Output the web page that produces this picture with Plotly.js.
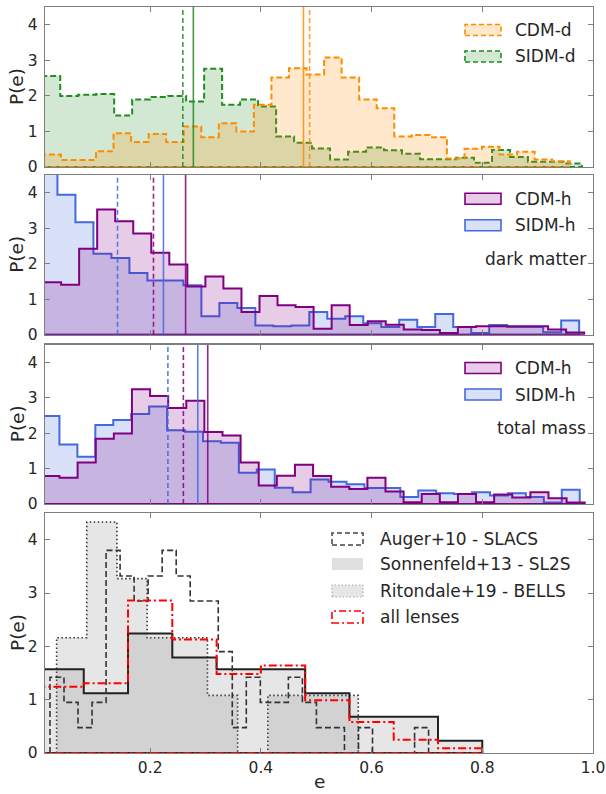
<!DOCTYPE html>
<html>
<head>
<meta charset="utf-8">
<script src="https://cdn.plot.ly/plotly-3.0.1.min.js"></script>
<style>
  html, body { margin: 0; padding: 0; background: #fff; }
  #chart { width: 606px; height: 794px; }
</style>
</head>
<body>
<div id="chart"></div>
<script>
// ---- Ellipticity distributions P(e): bin range [lo, hi] + bin heights ----

// Panel 1: disc shapes
const cdmDBins = [0.007, 0.958];
const cdmD = [0.35, 0.20, 0.20, 0.44, 0.95, 0.70, 0.93, 0.70, 1.14, 0.84,
              1.23, 1.00, 1.75, 2.52, 2.78, 2.60, 3.08, 2.52, 1.90, 1.65,
              0.86, 0.90, 0.84, 0.24, 0.51, 0.57, 0.35, 0.43, 0.21, 0.16];
const sidmDBins = [0.005, 0.980];
const sidmD = [2.56, 2.00, 2.03, 2.05, 1.45, 1.90, 1.97, 2.00, 1.84, 2.76,
               1.75, 1.90, 1.70, 0.86, 0.68, 0.52, 0.21, 0.43, 0.55, 0.47,
               0.37, 0.22, 0.22, 0.26, 0.12, 0.48, 0.28, 0.15, 0.15, 0.10];
const cdmDMarks = [0.477, 0.488];   // [solid, dashed]
const sidmDMarks = [0.278, 0.259];

// Panel 2: halo shapes, dark matter
const cdmHdmBins = [0.0065, 0.984];
const cdmHdm = [1.48, 1.41, 2.42, 3.53, 3.20, 2.85, 2.31, 1.98, 1.36, 1.64,
                1.30, 0.64, 1.09, 0.83, 0.78, 0.17, 0.83, 0.27, 0.38, 0.28,
                0.15, 0.13, 0.05, 0.22, 0.24, 0.24, 0.24, 0.24, 0.15, 0.06];
const sidmHdmBins = [0.0, 0.975];
const sidmHdm = [5.30, 3.94, 3.17, 2.28, 2.16, 1.74, 1.53, 1.53, 1.39, 0.52,
                 0.89, 0.75, 0.26, 0.24, 0.26, 0.64, 0.45, 0.52, 0.32, 0.22,
                 0.42, 0.22, 0.58, 0.22, 0.05, 0.27, 0.22, 0.22, 0.07, 0.40];
const cdmHdmMarks = [0.264, 0.206];
const sidmHdmMarks = [0.224, 0.141];

// Panel 3: halo shapes, total mass
const cdmHtotBins = [0.0035, 0.985];
const cdmHtot = [0.79, 0.74, 1.17, 1.84, 1.99, 3.24, 3.05, 2.71, 2.91, 2.03,
                 1.93, 1.17, 0.52, 0.80, 1.11, 0.79, 0.49, 0.42, 0.74, 0.35,
                 0.05, 0.28, 0.05, 0.28, 0.05, 0.27, 0.18, 0.33, 0.16, 0.04];
const sidmHtotBins = [0.0037, 0.976];
const sidmHtot = [2.48, 1.68, 1.33, 2.23, 2.37, 2.54, 2.75, 2.08, 2.04, 1.77,
                  1.73, 0.88, 0.97, 0.46, 0.33, 0.69, 0.63, 0.56, 0.45, 0.45,
                  0.20, 0.38, 0.30, 0.28, 0.33, 0.24, 0.30, 0.20, 0.04, 0.40];
const cdmHtotMarks = [0.304, 0.260];
const sidmHtotMarks = [0.286, 0.232];

// Panel 4: observed lens samples
const augerBins = [0.019, 0.703];
const auger = [1.42, 0.95, 0.475, 0.95, 3.80, 3.32, 2.85, 3.32, 3.80, 3.32,
               2.85, 2.85, 1.90, 0.475, 1.42, 0.95, 0.95, 1.42, 0.95, 0.475,
               0.475, 0, 0.475, 0, 0, 0, 0.475];
const sonnBins = [0.0, 0.8];
const sonn = [1.57, 1.12, 2.24, 1.79, 1.57, 1.57, 1.12, 0.68, 0.68, 0.23];
const ritBins = [0.031, 0.576];
const rit = [2.16, 4.33, 3.27, 2.16, 2.16, 1.08, 0, 1.08, 1.08, 1.08];
const allBins = [0.0, 0.8];
const allLenses = [1.24, 1.31, 2.86, 2.13, 1.48, 1.64, 0.99, 0.58, 0.25, 0.09];

// Axis ticks
const xTicks = [0.2, 0.4, 0.6, 0.8, 1.0];
const xTickText = ['0.2', '0.4', '0.6', '0.8', '1.0'];
const yTicks = [0, 1, 2, 3, 4];

// ---- styling ----
const FONT = 'DejaVu Sans, Verdana, sans-serif';
const TXT = '#262626';
const FRAME = '#7f7f7f';
const ORANGE = '#ff8c00', GREEN = '#228b22', PURPLE = '#800080', BLUE = '#4169e1';
const YMAX = 4.5;
const LEG_SIZE = 17;

function rgba(hex, a) {
  const n = parseInt(hex.slice(1), 16);
  return `rgba(${(n >> 16) & 255},${(n >> 8) & 255},${n & 255},${a})`;
}

// closed step outline of a histogram (bins equally spaced over range)
function stepTrace(range, h, ax, line, fillcolor) {
  const n = h.length, w = (range[1] - range[0]) / n;
  const x = [range[0]], y = [0];
  for (let i = 0; i < n; i++) { x.push(range[0] + i * w); y.push(h[i]); }
  x.push(range[1]); y.push(0);
  x.push(range[0]); y.push(0);
  return {
    type: 'scatter', mode: 'lines', x, y,
    xaxis: 'x' + ax, yaxis: 'y' + ax,
    line: Object.assign({ shape: 'hv' }, line),
    fill: fillcolor ? 'toself' : 'none', fillcolor: fillcolor || undefined,
    hoverinfo: 'skip', showlegend: false
  };
}

function vTrace(v, ax, color, dash) {
  return {
    type: 'scatter', mode: 'lines', x: [v, v], y: [0, YMAX],
    xaxis: 'x' + ax, yaxis: 'y' + ax,
    line: { color, width: 1.6, dash: dash ? '5px,3px' : 'solid' },
    opacity: 0.85, hoverinfo: 'skip', showlegend: false
  };
}

const DASH = '6px,3px';
const traces = [
  // panel 1
  stepTrace(sidmDBins, sidmD, '', { color: GREEN, width: 2, dash: DASH }, rgba(GREEN, 0.2)),
  stepTrace(cdmDBins, cdmD, '', { color: ORANGE, width: 2, dash: DASH }, rgba(ORANGE, 0.2)),
  vTrace(cdmDMarks[0], '', ORANGE, false), vTrace(cdmDMarks[1], '', ORANGE, true),
  vTrace(sidmDMarks[0], '', GREEN, false), vTrace(sidmDMarks[1], '', GREEN, true),
  // panel 2
  stepTrace(sidmHdmBins, sidmHdm, '2', { color: BLUE, width: 2 }, rgba(BLUE, 0.2)),
  stepTrace(cdmHdmBins, cdmHdm, '2', { color: PURPLE, width: 2 }, rgba(PURPLE, 0.2)),
  vTrace(cdmHdmMarks[0], '2', PURPLE, false), vTrace(cdmHdmMarks[1], '2', PURPLE, true),
  vTrace(sidmHdmMarks[0], '2', BLUE, false), vTrace(sidmHdmMarks[1], '2', BLUE, true),
  // panel 3
  stepTrace(sidmHtotBins, sidmHtot, '3', { color: BLUE, width: 2 }, rgba(BLUE, 0.2)),
  stepTrace(cdmHtotBins, cdmHtot, '3', { color: PURPLE, width: 2 }, rgba(PURPLE, 0.2)),
  vTrace(cdmHtotMarks[0], '3', PURPLE, false), vTrace(cdmHtotMarks[1], '3', PURPLE, true),
  vTrace(sidmHtotMarks[0], '3', BLUE, false), vTrace(sidmHtotMarks[1], '3', BLUE, true),
  // panel 4
  stepTrace(ritBins, rit, '4', { color: '#333333', width: 1.6, dash: '1.5px,2.5px' }, 'rgba(128,128,128,0.2)'),
  stepTrace(sonnBins, sonn, '4', { color: '#222222', width: 2 }, 'rgba(128,128,128,0.2)'),
  stepTrace(augerBins, auger, '4', { color: '#333333', width: 1.6, dash: DASH }, null),
  stepTrace(allBins, allLenses, '4', { color: '#ff0000', width: 2, dash: '8px,3px,2px,3px' }, null)
];

// ---- layout ----
const W = 606, H = 794;
const M = { l: 45, r: 13, t: 7, b: 41 };
const PW = W - M.l - M.r, PH = H - M.t - M.b;
const px = v => (v - M.l) / PW;          // pixel -> paper x
const py = v => (H - M.b - v) / PH;      // pixel -> paper y

function xAxis(anchor, labels) {
  return {
    anchor, range: [0.01, 1.0], tickvals: xTicks, ticktext: xTickText,
    showticklabels: labels, ticks: 'inside', ticklen: 5, tickwidth: 1, tickcolor: FRAME,
    showline: true, linecolor: FRAME, linewidth: 1.2, mirror: 'ticks',
    showgrid: false, zeroline: false, fixedrange: true,
    tickfont: { family: FONT, size: 15.5, color: TXT }
  };
}
function yAxis(anchor, top, bottom) {
  return {
    anchor, domain: [py(bottom), py(top)], range: [0, YMAX], tickvals: yTicks,
    ticks: 'inside', ticklen: 5, tickwidth: 1, tickcolor: FRAME,
    showline: true, linecolor: FRAME, linewidth: 1.2, mirror: 'ticks',
    showgrid: false, zeroline: false, fixedrange: true, ticklabelstandoff: 3,
    tickfont: { family: FONT, size: 15.5, color: TXT }
  };
}

const panels = [[7, 167], [175, 334.7], [344.5, 504], [513, 753]];

// legend swatches and labels
const shapes = [], annotations = [];
function legendItem(x0, x1, yc, h, line, fill, label, tx) {
  shapes.push({
    type: 'rect', xref: 'paper', yref: 'paper',
    x0: px(x0), x1: px(x1), y0: py(yc + h / 2), y1: py(yc - h / 2),
    line: line, fillcolor: fill || 'rgba(0,0,0,0)'
  });
  annotations.push({
    xref: 'paper', yref: 'paper', x: px(tx), y: py(yc), xanchor: 'left', yanchor: 'middle',
    text: label, showarrow: false, font: { family: FONT, size: LEG_SIZE, color: TXT }
  });
}
legendItem(465, 501, 30, 11, { color: ORANGE, width: 1.6, dash: '5px,3px' }, rgba(ORANGE, 0.2), 'CDM-d', 513);
legendItem(465, 501, 56.5, 11, { color: GREEN, width: 1.6, dash: '5px,3px' }, rgba(GREEN, 0.2), 'SIDM-d', 513);
legendItem(465, 501, 198.7, 11, { color: PURPLE, width: 1.6 }, rgba(PURPLE, 0.2), 'CDM-h', 513);
legendItem(465, 501, 225.3, 11, { color: BLUE, width: 1.6 }, rgba(BLUE, 0.2), 'SIDM-h', 513);
legendItem(465, 501, 368, 11, { color: PURPLE, width: 1.6 }, rgba(PURPLE, 0.2), 'CDM-h', 513);
legendItem(465, 501, 394.5, 11, { color: BLUE, width: 1.6 }, rgba(BLUE, 0.2), 'SIDM-h', 513);
legendItem(332, 363, 539, 12, { color: '#444444', width: 1.5, dash: '5px,3px' }, null, 'Auger+10 - SLACS', 378);
legendItem(332, 363, 564, 12, { color: 'rgba(0,0,0,0)', width: 0 }, '#e0e0e0', 'Sonnenfeld+13 - SL2S', 378);
legendItem(332, 363, 591, 12, { color: '#b0b0b0', width: 1.2, dash: '1.5px,2px' }, '#e6e6e6', 'Ritondale+19 - BELLS', 378);
legendItem(332, 363, 617, 12, { color: '#ff0000', width: 1.6, dash: '7px,3px,2px,3px' }, null, 'all lenses', 378);

// panel captions
[['dark matter', 259], ['total mass', 427.5]].forEach(([t, y]) => annotations.push({
  xref: 'paper', yref: 'paper', x: px(588), y: py(y), xanchor: 'right', yanchor: 'middle',
  text: t, showarrow: false, font: { family: FONT, size: LEG_SIZE, color: TXT }
}));

// axis titles
panels.forEach(([t, b]) => annotations.push({
  xref: 'paper', yref: 'paper', x: px(17), y: py((t + b) / 2), xanchor: 'center', yanchor: 'middle',
  text: 'P(e)', textangle: -90, showarrow: false, font: { family: FONT, size: 18.5, color: TXT }
}));
annotations.push({
  xref: 'paper', yref: 'paper', x: px(319), y: py(782), xanchor: 'center', yanchor: 'middle',
  text: 'e', showarrow: false, font: { family: FONT, size: 18.5, color: TXT }
});

const layout = {
  width: W, height: H, margin: M,
  paper_bgcolor: '#ffffff', plot_bgcolor: '#ffffff',
  showlegend: false,
  xaxis: xAxis('y', false), yaxis: yAxis('x', ...panels[0]),
  xaxis2: xAxis('y2', false), yaxis2: yAxis('x2', ...panels[1]),
  xaxis3: xAxis('y3', false), yaxis3: yAxis('x3', ...panels[2]),
  xaxis4: xAxis('y4', true), yaxis4: yAxis('x4', ...panels[3]),
  shapes, annotations
};

Plotly.newPlot('chart', traces, layout, { staticPlot: true, displayModeBar: false });
</script>
</body>
</html>
